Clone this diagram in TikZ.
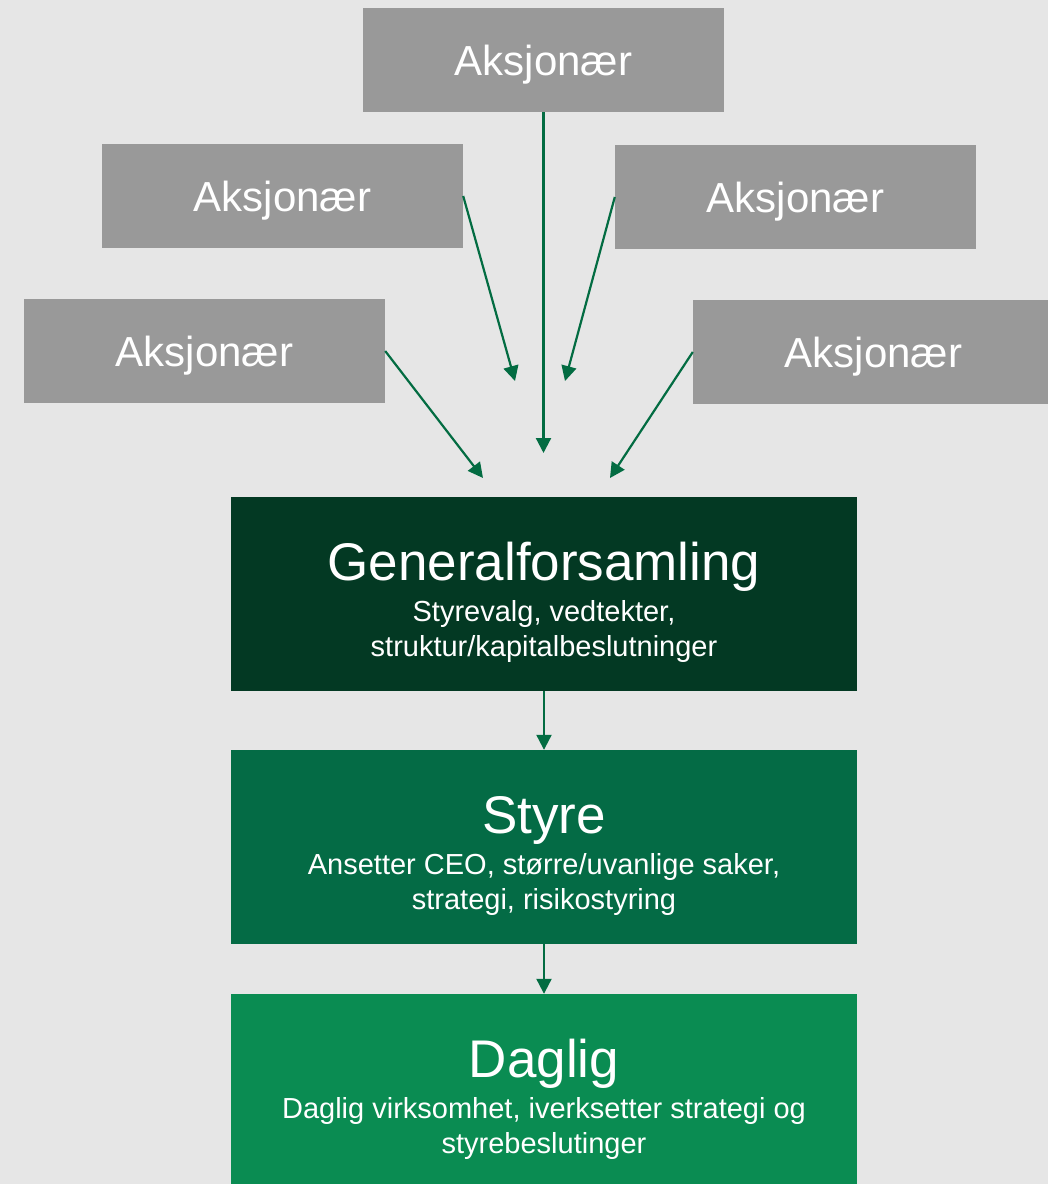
\documentclass[tikz,border=0pt]{standalone}
\usepackage{fontspec}
\setmainfont{Liberation Sans}
\usetikzlibrary{arrows.meta}

\definecolor{bgGray}{RGB}{230,230,230}
\definecolor{boxGray}{RGB}{153,153,153}
\definecolor{gfGreen}{RGB}{3,57,35}
\definecolor{styreGreen}{RGB}{4,107,69}
\definecolor{dagligGreen}{RGB}{10,140,82}
\definecolor{arrowGreen}{RGB}{3,108,66}

\newcommand{\titleFont}{\fontsize{53}{41}\selectfont\rule{0pt}{55pt}}
\newcommand{\subFont}{\fontsize{29}{34}\selectfont}

\tikzset{
    aksjonaer/.style={fill=boxGray, text=white, minimum width=361pt, minimum height=104pt,
        inner sep=0pt, text depth=0pt, font=\fontsize{42}{48}\selectfont},
    organ/.style={text=white, minimum width=626pt, minimum height=194pt, inner sep=0pt,
        align=center},
    pil/.style={draw=arrowGreen, line width=2.2pt, -{Triangle[length=15pt, width=15pt]}}
}

\begin{document}
\begin{tikzpicture}[x=1pt, y=-1pt]
    \fill[bgGray] (0,0) rectangle (1048,1184);
    \useasboundingbox (0,0) rectangle (1048,1184);

    \node[aksjonaer] (aksjonaerTop) at (543.5,60) {Aksjon\ae r};
    \node[aksjonaer] (aksjonaerLeftHigh) at (282.5,196) {Aksjon\ae r};
    \node[aksjonaer] (aksjonaerRightHigh) at (795.5,197) {Aksjon\ae r};
    \node[aksjonaer] (aksjonaerLeftLow) at (204.5,351) {Aksjon\ae r};
    \node[aksjonaer] (aksjonaerRightLow) at (873.5,352) {Aksjon\ae r};

    \node[organ, fill=gfGreen] (generalforsamling) at (544,594)
        {\titleFont Generalforsamling\\[8pt]
         \subFont Styrevalg, vedtekter,\\[6pt] \subFont struktur/kapitalbeslutninger};
    \node[organ, fill=styreGreen] (styre) at (544,847)
        {\titleFont Styre\\[8pt]
         \subFont Ansetter CEO, st\o rre/uvanlige saker,\\[6pt] \subFont strategi, risikostyring};
    \node[organ, fill=dagligGreen] (daglig) at (544,1091)
        {\titleFont Daglig\\[8pt]
         \subFont Daglig virksomhet, iverksetter strategi og\\[6pt] \subFont styrebeslutinger};

    \coordinate (endTop) at (543.5,453);
    \coordinate (endLeftHigh) at (515,381);
    \coordinate (endRightHigh) at (565,381);
    \coordinate (endLeftLow) at (483,478);
    \coordinate (endRightLow) at (610,478);

    \draw[pil] (aksjonaerTop.south) -- (endTop);
    \draw[pil] (aksjonaerLeftHigh.east) -- (endLeftHigh);
    \draw[pil] (aksjonaerRightHigh.west) -- (endRightHigh);
    \draw[pil] (aksjonaerLeftLow.east) -- (endLeftLow);
    \draw[pil] (aksjonaerRightLow.west) -- (endRightLow);
    \draw[pil] (generalforsamling.south) -- (styre.north);
    \draw[pil] (styre.south) -- (daglig.north);
\end{tikzpicture}
\end{document}
